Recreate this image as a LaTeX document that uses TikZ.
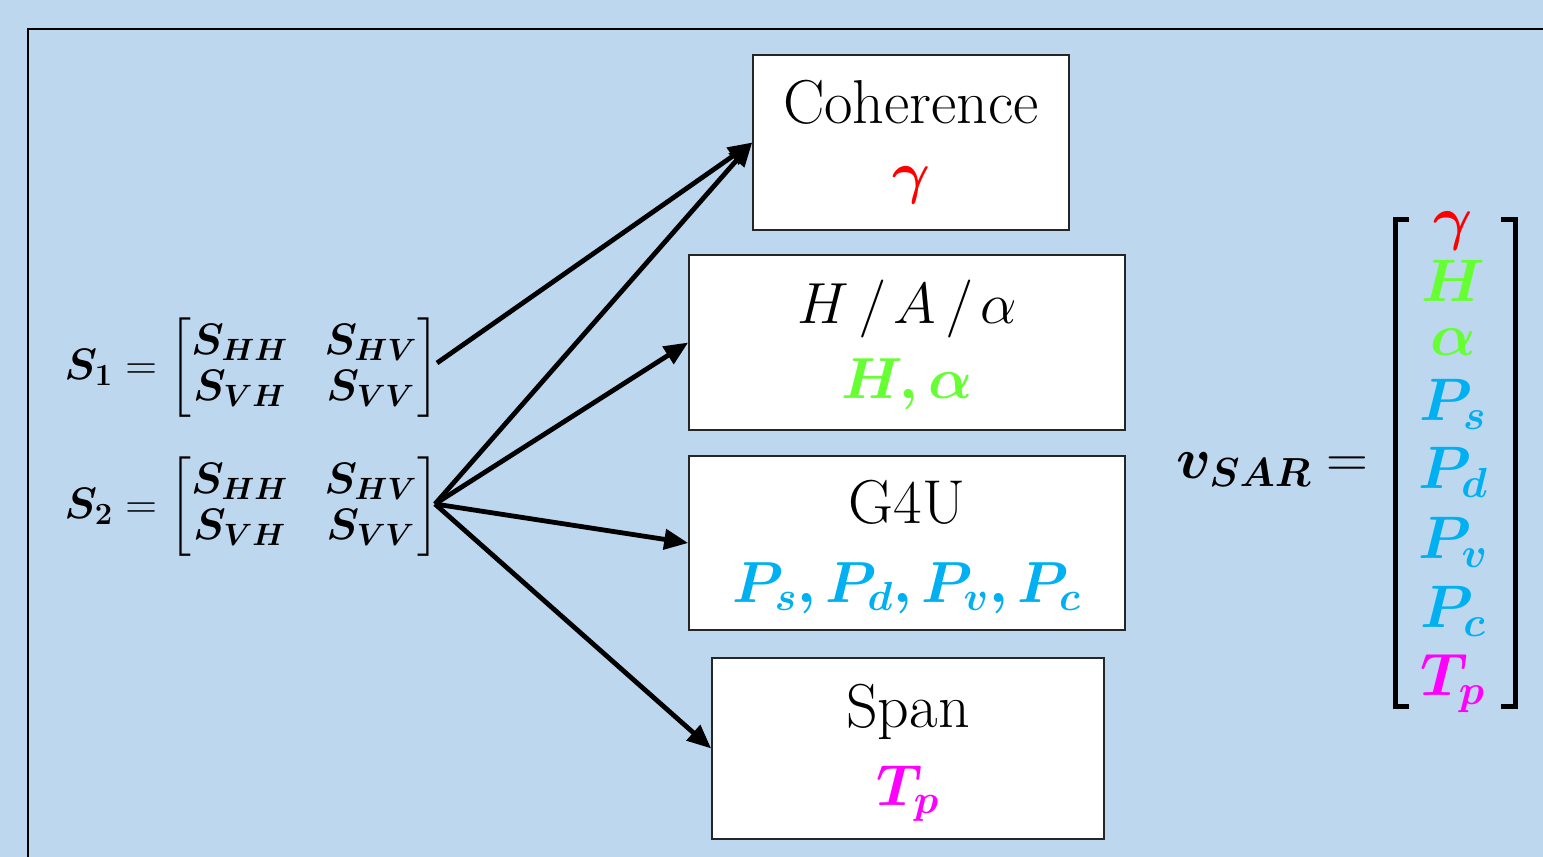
\documentclass[tikz,border=0pt]{standalone}
\usepackage{fix-cm}
\usepackage{amsmath}
\usepackage{bm}
\usetikzlibrary{arrows.meta}
\definecolor{bgblue}{RGB}{189,215,238}
\definecolor{cred}{RGB}{255,0,0}
\definecolor{cgreen}{RGB}{102,255,51}
\definecolor{cblue}{RGB}{0,176,240}
\definecolor{cmag}{RGB}{255,0,255}
\tikzset{
  box/.style={draw=black!85, fill=white, line width=0.8pt, inner sep=0pt},
  lbl/.style={anchor=base, inner sep=0pt, font=\fontsize{31}{37}\selectfont},
  mlbl/.style={anchor=base, inner sep=0pt, font=\fontsize{29}{35}\selectfont},
  vec/.style={anchor=base, inner sep=0pt, font=\fontsize{30}{36}\selectfont},
  eqn/.style={anchor=west, inner sep=0pt, font=\fontsize{22}{26}\selectfont},
  arr/.style={line width=2.4pt, -{Triangle[length=12pt,width=10pt]}},
  brk/.style={line width=2.5pt},
}
\begin{document}
\begin{tikzpicture}[x=0.5pt,y=-0.5pt]
\useasboundingbox (0,0) rectangle (1543,857);
\fill[bgblue] (0,0) rectangle (1543,857);
\begin{scope}
\clip (0,0) rectangle (1543,857);
\draw[line width=1.3pt] (1570,29) -- (28,29) -- (28,890);
\end{scope}

% boxes
\node[box, minimum width=158pt, minimum height=87.5pt] (coh) at (911,142.5) {};
\node[box, minimum width=218pt, minimum height=87.5pt] (hbox) at (907,342.5) {};
\node[box, minimum width=218pt, minimum height=87pt] (gbox) at (907,543) {};
\node[box, minimum width=196pt, minimum height=90.5pt] (sbox) at (908,748.5) {};

% box texts
\node[lbl] (cohT) at (911,123) {Coherence};
\node[mlbl, text=cred] (cohM) at (911,192) {$\bm{\gamma}$};
\node[mlbl] (hT) at (907,323) {$H\mkern3mu/\mkern2muA\mkern3mu/\mkern2mu\alpha$};
\node[mlbl, text=cgreen] (hM) at (907,398) {$\bm{H,\alpha}$};
\node[lbl] (gT) at (907,523) {G4U};
\node[mlbl, text=cblue] (gM) at (907,602) {$\bm{P_s, P_d, P_v, P_c}$};
\node[lbl] (sT) at (908,727) {Span};
\node[mlbl, text=cmag] (sM) at (908,805) {$\bm{T_p}$};

% left equations
\node[eqn] (s1) at (64,368) {\setlength\arraycolsep{9pt}\renewcommand\arraystretch{0.88}$\bm{S_1} = \begin{bmatrix}\bm{S_{HH}} & \bm{S_{HV}}\\ \bm{S_{VH}} & \bm{S_{VV}}\end{bmatrix}$};
\node[eqn] (s2) at (64,507) {\setlength\arraycolsep{9pt}\renewcommand\arraystretch{0.88}$\bm{S_2} = \begin{bmatrix}\bm{S_{HH}} & \bm{S_{HV}}\\ \bm{S_{VH}} & \bm{S_{VV}}\end{bmatrix}$};

% arrows
\coordinate (o1) at (437,363);
\coordinate (o2) at (435,504);
\draw[arr] (o1) -- (coh.west);
\draw[arr] (o2) -- (coh.west);
\draw[arr] (o2) -- (hbox.west);
\draw[arr] (o2) -- (gbox.west);
\draw[arr] (o2) -- (sbox.west);

% feature vector
\node[anchor=base west, inner sep=0pt, font=\fontsize{29}{35}\selectfont] (v) at (1176,478) {$\bm{v_{SAR}}$};
\node[inner sep=0pt, font=\fontsize{29}{35}\selectfont] (veq) at (1347,467) {$=$};
\draw[brk] (1409,219) -- (1395,219) -- (1395,706) -- (1409,706);
\draw[brk] (1501,219) -- (1515,219) -- (1515,706) -- (1501,706);
\node[vec, text=cred] (e1) at (1453,238) {$\bm{\gamma}$};
\node[vec, text=cgreen] (e2) at (1453,301) {$\bm{H}$};
\node[vec, text=cgreen] (e3) at (1453,355) {$\bm{\alpha}$};
\node[vec, text=cblue] (e4) at (1453,420) {$\bm{P_s}$};
\node[vec, text=cblue] (e5) at (1453,488) {$\bm{P_d}$};
\node[vec, text=cblue] (e6) at (1453,558) {$\bm{P_v}$};
\node[vec, text=cblue] (e7) at (1453,627) {$\bm{P_c}$};
\node[vec, text=cmag] (e8) at (1453,695) {$\bm{T_p}$};
\end{tikzpicture}
\end{document}
